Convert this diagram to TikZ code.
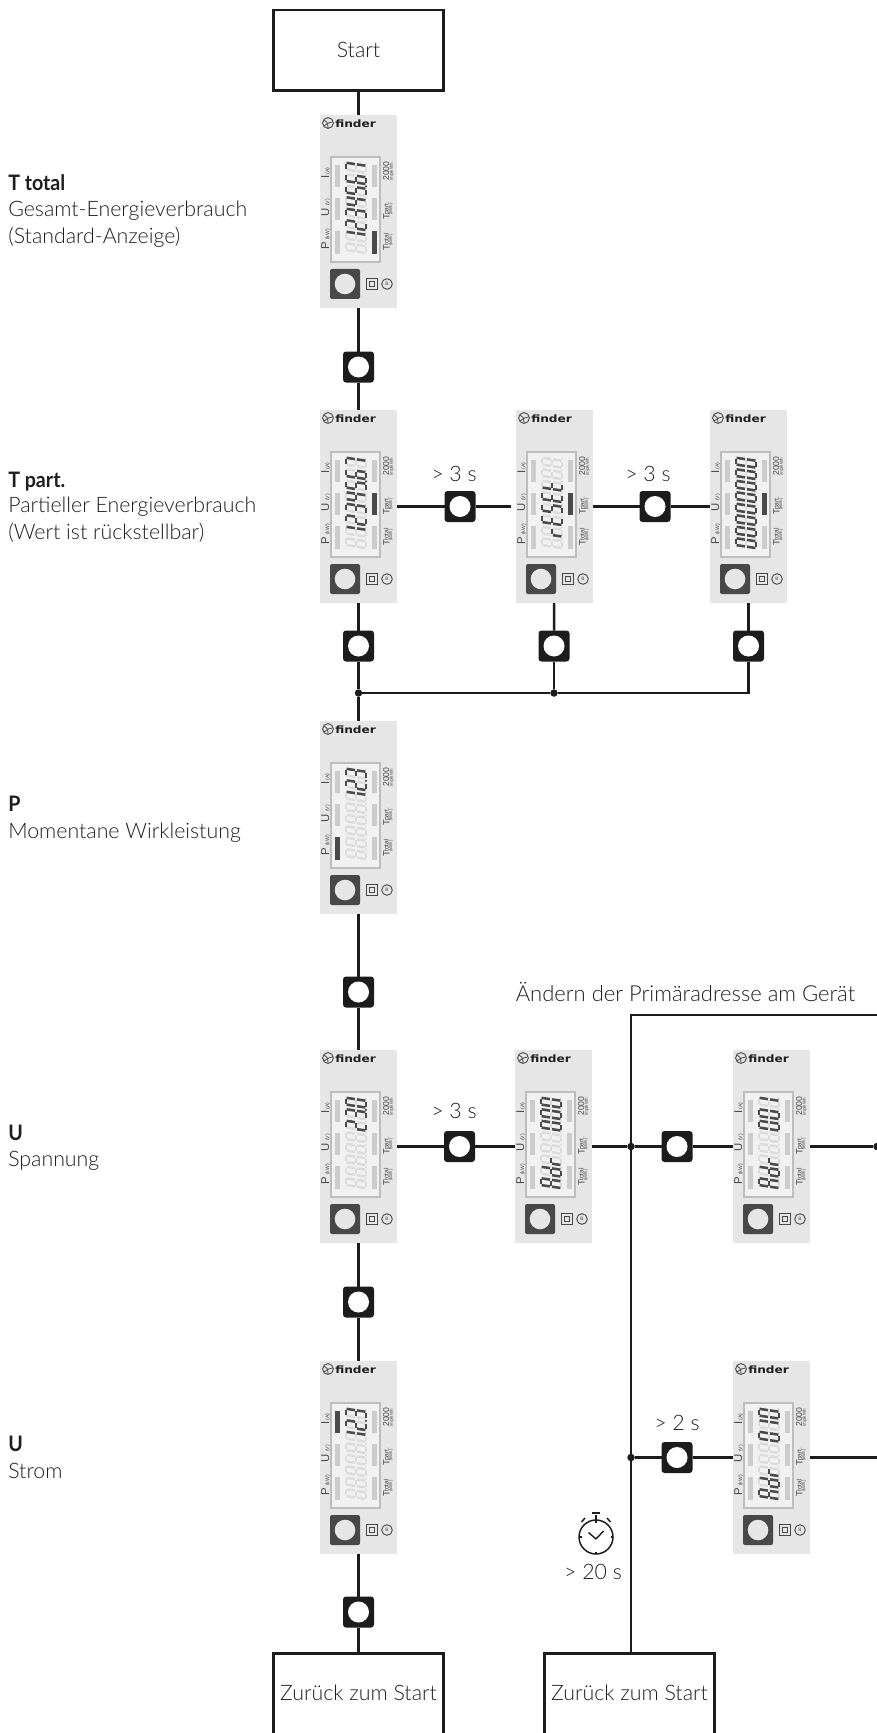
\documentclass[tikz,border=0pt]{standalone}
\usepackage{fontspec}
\setmainfont{Lato}[UprightFont=* Light,BoldFont=* Bold]
\newfontfamily\devfont{Liberation Sans}
\newfontfamily\logofont{DejaVu Sans}[BoldFont=* Bold]
\definecolor{inkc}{HTML}{1C1C1C}
\definecolor{textc}{HTML}{1E1E1E}
\definecolor{devbg}{HTML}{E6E6E6}
\definecolor{devdark}{HTML}{484848}
\definecolor{dispouter}{HTML}{BDBDBD}
\definecolor{dispinner}{HTML}{F1F1F1}
\definecolor{baroff}{HTML}{CCCCCC}
\definecolor{segoff}{HTML}{DCDCDC}
\definecolor{segon}{HTML}{4A4A4A}
\def\px{.75pt}
\newcommand\flowfont{\fontsize{16}{18}\selectfont}
\newcommand\dvf[1]{\devfont\fontsize{#1}{#1}\selectfont}
\tikzset{
  devbox/.style={rectangle,fill=devbg,minimum width=77*\px,minimum height=193*\px,inner sep=0pt,outer sep=0pt},
  btn/.style={rectangle,rounded corners=3*\px,fill=inkc,minimum width=31*\px,minimum height=31*\px,inner sep=0pt,outer sep=0pt,
     path picture={\fill[white] (path picture bounding box.center) circle (10.5*\px);}},
  conn/.style={draw=inkc,line width=2.4*\px},
  dot/.style={circle,fill=inkc,minimum size=7.5*\px,inner sep=0pt,outer sep=0pt},
  flowbox/.style={rectangle,draw=inkc,line width=2.8*\px,fill=white,minimum width=170*\px,minimum height=80.5*\px,inner sep=0pt,outer sep=0pt,text=textc,font=\flowfont},
  opentext/.style={rectangle,minimum width=170*\px,minimum height=79.5*\px,inner sep=0pt,outer sep=0pt,text=textc,font=\flowfont},
  flowlabel/.style={text=textc,font=\flowfont,inner sep=0pt},
  sidelabel/.style={text=textc,font=\flowfont,anchor=base west,inner sep=0pt},
  rotlab/.style={rotate=90,anchor=base west,text=devdark,inner sep=0pt},
  seg/.style={line width=2.5*\px,line cap=butt},
}
% seven segment parts
\newcommand\segline[4]{\draw[seg,color=\dcol] ({47-#2},{\dy-#1-0.15*#2}) -- ({47-#4},{\dy-#3-0.15*#4});}
\expandafter\def\csname sg@a\endcsname{\segline{1.6}{21.2}{6.8}{21.2}}
\expandafter\def\csname sg@b\endcsname{\segline{7.6}{20.4}{7.6}{12}}
\expandafter\def\csname sg@c\endcsname{\segline{7.6}{10}{7.6}{1.6}}
\expandafter\def\csname sg@d\endcsname{\segline{1.6}{.8}{6.8}{.8}}
\expandafter\def\csname sg@e\endcsname{\segline{0.8}{10}{0.8}{1.6}}
\expandafter\def\csname sg@f\endcsname{\segline{0.8}{20.4}{0.8}{12}}
\expandafter\def\csname sg@g\endcsname{\segline{1.6}{11}{6.8}{11}}
\def\alldigit{a,b,c,d,e,f,g}
\expandafter\def\csname dg@0\endcsname{a,b,c,d,e,f}
\expandafter\def\csname dg@1\endcsname{b,c}
\expandafter\def\csname dg@2\endcsname{a,b,g,e,d}
\expandafter\def\csname dg@3\endcsname{a,b,g,c,d}
\expandafter\def\csname dg@4\endcsname{f,g,b,c}
\expandafter\def\csname dg@5\endcsname{a,f,g,c,d}
\expandafter\def\csname dg@6\endcsname{a,f,g,e,c,d}
\expandafter\def\csname dg@7\endcsname{a,b,c}
\expandafter\def\csname dg@A\endcsname{a,b,c,e,f,g}
\expandafter\def\csname dg@d\endcsname{b,c,d,e,g}
\expandafter\def\csname dg@r\endcsname{e,g}
\expandafter\def\csname dg@E\endcsname{a,d,e,f,g}
\expandafter\def\csname dg@t\endcsname{d,e,f,g}
\expandafter\def\csname dg@-\endcsname{}
% indicator bars
\expandafter\def\csname bar@none\endcsname{}
\expandafter\def\csname bar@tl\endcsname{\fill[segon] (15,50) rectangle (19.5,72);}
\expandafter\def\csname bar@bl\endcsname{\fill[segon] (15,116) rectangle (19.5,139);}
\expandafter\def\csname bar@mr\endcsname{\fill[segon] (52,83) rectangle (56.5,105);}
\expandafter\def\csname bar@br\endcsname{\fill[segon] (52,116) rectangle (56.5,139);}
% device: name, left, top, active bar, 8 characters, position of the decimal point
\newcommand\device[6]{%
  \node[devbox] (#1) at (#2+38.5,#3+96.5) {};
  \begin{scope}[shift={(#2,#3)}]
    \draw[devdark,line width=.9*\px] (8,8) circle (5.4);
    \draw[devdark,line width=.8*\px] (4,5) .. controls (7,6) and (8,8) .. (8,13);
    \draw[devdark,line width=.8*\px] (12.5,7) .. controls (10,7) and (8,8) .. (4,11);
    \node[anchor=west,inner sep=0pt,text=textc,font=\logofont\bfseries\fontsize{7.6}{8}\selectfont] at (15,9) {\scalebox{1.2}[1]{finder}};
    \fill[dispouter] (10,41) rectangle (61,148);
    \fill[dispinner] (12.2,43.2) rectangle (58.8,145.8);
    \foreach \bx in {15,52} \foreach \by/\bh in {50/22,83/22,116/23}
      \fill[baroff] (\bx,\by) rectangle (\bx+4.5,\by+\bh);
    \csname bar@#4\endcsname
    \foreach \c [count=\p] in {#5} {
      \pgfmathsetmacro\dy{139-11.5*(\p-1)}
      \def\dcol{segoff}
      \foreach \s in \alldigit {\csname sg@\s\endcsname}
      \fill[segoff] (46,\dy-10.2) circle (1);
      \def\dcol{segon}
      \edef\mylist{\csname dg@\c\endcsname}
      \foreach \s in \mylist {\csname sg@\s\endcsname}
      \ifnum\p=#6\relax \fill[segon] (46,\dy-10.2) circle (1.2);\fi
    }
    \fill[devdark,rounded corners=2*\px] (10,154) rectangle (40,184);
    \fill[devbg] (25,169) circle (10.3);
    \draw[devdark,line width=1*\px] (46.5,163.5) rectangle (57.5,174.5);
    \draw[devdark,line width=.9*\px] (49.5,166.5) rectangle (54.5,171.5);
    \draw[devdark,line width=.9*\px] (67,169) circle (5.3);
    \node[text=devdark,inner sep=0pt,font=\dvf{3.6}] at (67,169) {B};
    \node[rotlab,font=\dvf{8.5}] at (9,64) {I};
    \node[rotlab,font=\dvf{3.8}] at (9,59.5) {(A)};
    \node[rotlab,font=\dvf{8.5}] at (9,101.5) {U};
    \node[rotlab,font=\dvf{3.8}] at (9,91) {(V)};
    \node[rotlab,font=\dvf{8.5}] at (9,135) {P};
    \node[rotlab,font=\dvf{3.8}] at (9,125) {(kW)};
    \node[rotlab,font=\dvf{6.5}] at (69,66) {2000};
    \node[rotlab,font=\dvf{3.4}] at (72.8,66) {imp/kWh};
    \node[rotlab,font=\dvf{7}] at (69.5,104.5) {T};
    \node[rotlab,font=\dvf{5}] at (68.5,100) {part.};
    \node[rotlab,font=\dvf{3.2}] at (72,100) {(kWh)};
    \node[rotlab,font=\dvf{7}] at (69.5,135.5) {T};
    \node[rotlab,font=\dvf{5}] at (68.5,131) {total};
    \node[rotlab,font=\dvf{3.2}] at (72,131) {(kWh)};
  \end{scope}
}
\begin{document}
\begin{tikzpicture}[x=.75pt,y=-.75pt]
\useasboundingbox (0,0) rectangle (877,1733);
% boxes
\node[flowbox] (start) at (358.5,50.2) {Start};
\node[opentext] (back1) at (358.5,1693.2) {Zurück zum Start};
\node[opentext] (back2) at (629.5,1693.2) {Zurück zum Start};
% devices
\device{dtotal}{320}{115}{br}{-,1,2,3,4,5,6,7}{6}
\device{dpart}{320}{410}{mr}{-,1,2,3,4,5,6,7}{6}
\device{dreset}{516}{410}{mr}{-,r,E,5,E,t,-,-}{0}
\device{dzero}{710}{410}{mr}{0,0,0,0,0,0,0,0}{0}
\device{dp}{320}{721}{bl}{-,-,-,-,-,1,2,3}{7}
\device{du}{320}{1050}{none}{-,-,-,-,-,2,3,0}{7}
\device{dadra}{515}{1050}{none}{A,d,r,-,-,0,0,0}{0}
\device{dadrb}{733}{1050}{none}{A,d,r,-,-,0,0,1}{0}
\device{di}{320}{1361}{tl}{-,-,-,-,-,1,2,3}{7}
\device{dadrc}{733}{1361}{none}{A,d,r,-,-,0,1,0}{0}
% buttons
\node[btn] (b1) at (358.5,367) {};
\node[btn] (b2) at (460,506.5) {};
\node[btn] (b3) at (655,506.5) {};
\node[btn] (b4) at (358.5,646) {};
\node[btn] (b5) at (554,646) {};
\node[btn] (b6) at (748.5,646) {};
\node[btn] (b7) at (358.5,992) {};
\node[btn] (b8) at (459.5,1146.5) {};
\node[btn] (b9) at (677,1146.5) {};
\node[btn] (b10) at (358.5,1302) {};
\node[btn] (b11) at (677,1457.5) {};
\node[btn] (b12) at (358.5,1612) {};
% junctions and free ends
\node[dot] (j1) at (358.5,693) {};
\node[dot] (j2) at (554,693) {};
\node[dot] (j3) at (631,1146.5) {};
\node[dot] (j4) at (631,1457.5) {};
\node[dot] (j5) at (877,1146.5) {};
\coordinate (c1) at (748.5,693);
\coordinate (c2) at (877,1015);
\coordinate (c3) at (631,1015);
\coordinate (c4) at (877,1457.5);
\coordinate (c5) at (631,1652);
% connectors
\draw[conn] (start) -- (dtotal);
\draw[conn] (dtotal) -- (b1);
\draw[conn] (b1) -- (dpart);
\draw[conn] (dpart) -- (b2);
\draw[conn,shorten >=5*\px] (b2) -- (dreset);
\draw[conn] (dreset) -- (b3);
\draw[conn] (b3) -- (dzero);
\draw[conn] (dpart) -- (b4);
\draw[conn] (b4) -- (j1);
\draw[conn] (dreset) -- (b5);
\draw[conn] (b5) -- (j2);
\draw[conn] (dzero) -- (b6);
\draw[conn] (b6) -- (c1) -- (j2);
\draw[conn] (j2) -- (j1);
\draw[conn] (j1) -- (dp);
\draw[conn] (dp) -- (b7);
\draw[conn] (b7) -- (du);
\draw[conn] (du) -- (b8);
\draw[conn] (b8) -- (dadra);
\draw[conn] (dadra) -- (j3);
\draw[conn] (j3) -- (b9);
\draw[conn] (b9) -- (dadrb);
\draw[conn] (dadrb) -- (j5);
\draw[conn] (du) -- (b10);
\draw[conn] (b10) -- (di);
\draw[conn] (di) -- (b12);
\draw[conn] (b12) -- (back1);
\draw[conn,line cap=butt] (c2) -- (c3) -- (j3);
\draw[conn] (j3) -- (j4);
\draw[conn] (j4) -- (c5);
\draw[conn] (j4) -- (b11);
\draw[conn] (b11) -- (dadrc);
\draw[conn] (dadrc) -- (c4);
% open-bottom boxes running off the page
\draw[inkc,line width=2.8*\px] (back1.south west) -- (back1.north west) -- (back1.north east) -- (back1.south east);
\draw[inkc,line width=2.8*\px] (back2.south west) -- (back2.north west) -- (back2.north east) -- (back2.south east);
% labels
\node[flowlabel] (t1) at (454,474) {> 3 s};
\node[flowlabel] (t2) at (648,474) {> 3 s};
\node[flowlabel] (t3) at (454,1111) {> 3 s};
\node[flowlabel] (t4) at (677,1423) {> 2 s};
\node[flowlabel] (t5) at (593,1572) {> 20 s};
\node[flowlabel,font=\fontsize{16.5}{18}\selectfont] (t6) at (685.5,992) {Ändern der Primäradresse am Gerät};
\node[sidelabel] at (8,191) {\scalebox{.92}[1]{\textbf{T total}}};
\node[sidelabel] at (8,216.5) {Gesamt-Energieverbrauch};
\node[sidelabel] at (8,244) {(Standard-Anzeige)};
\node[sidelabel] at (8,487) {\scalebox{.92}[1]{\textbf{T part.}}};
\node[sidelabel] at (8,512.5) {Partieller Energieverbrauch};
\node[sidelabel] at (8,539) {(Wert ist rückstellbar)};
\node[sidelabel] at (8,811) {\scalebox{.92}[1]{\textbf{P}}};
\node[sidelabel] at (8,838) {Momentane Wirkleistung};
\node[sidelabel] at (8,1140) {\scalebox{.92}[1]{\textbf{U}}};
\node[sidelabel] at (8,1166.5) {Spannung};
\node[sidelabel] at (8,1451) {\scalebox{.92}[1]{\textbf{U}}};
\node[sidelabel] at (8,1478) {Strom};
% stopwatch
\begin{scope}[shift={(596,1537)}]
  \draw[textc,line width=1.5*\px] (0,0) circle (17);
  \draw[textc,line width=1.4*\px] (0,2) -- (-7.5,-4.5);
  \draw[textc,line width=1.4*\px] (0,2) -- (7.5,-6);
  \foreach \a in {0,90,180,270} \draw[textc,line width=1.2*\px] (\a:17) -- (\a:14.5);
  \draw[textc,line width=1.8*\px] (0,-17) -- (0,-22);
  \draw[textc,line width=2.6*\px] (-4,-24) -- (4,-24);
  \draw[textc,line width=1.5*\px] (-14.5,-15) -- (-11,-19);
  \draw[textc,line width=1.5*\px] (14.5,-15) -- (11,-19);
\end{scope}
\end{tikzpicture}
\end{document}
